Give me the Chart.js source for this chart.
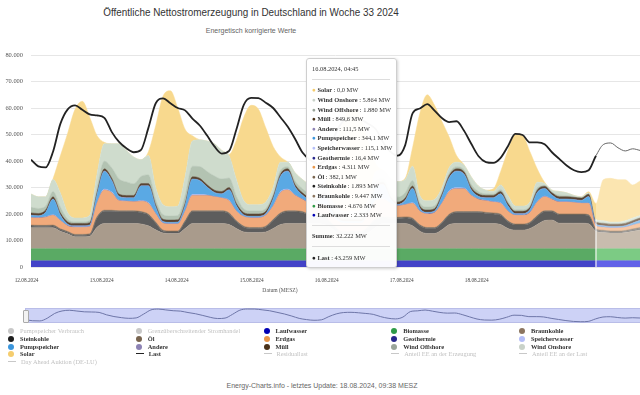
<!DOCTYPE html>
<html lang="de">
<head>
<meta charset="utf-8">
<title>Öffentliche Nettostromerzeugung in Deutschland in Woche 33 2024</title>
<script src="https://cdn.jsdelivr.net/npm/chart.js@4.4.1/dist/chart.umd.min.js"></script>
<style>
  html, body { margin: 0; padding: 0; background: #fff; }
  #wrap { position: relative; width: 640px; height: 395px; overflow: hidden; font-family: "Liberation Serif", serif; }
  #main { position: absolute; left: 0; top: 0; }
  #nav { position: absolute; left: 0; top: 300px; }
  .head { position: absolute; left: 0; width: 502px; text-align: center; white-space: nowrap;
          font-family: "Liberation Sans", Arial, sans-serif; }
  #title { top: 6px; font-size: 11.5px; color: #333; transform: scaleX(0.86); transform-origin: 251px 0; }
  #subtitle { top: 27px; font-size: 7px; color: #666; }
  #xtitle { position: absolute; left: 230px; width: 100px; top: 287px; text-align: center; font-size: 5.6px; color: #555; }
  #footer { position: absolute; left: 0; width: 644px; top: 382px; text-align: center; font-size: 7px; color: #666;
            font-family: "Liberation Sans", Arial, sans-serif; }
  #handle { position: absolute; left: 23px; top: 310px; width: 4px; height: 11px; background: #f2f2f2; border: 1px solid #aaa; border-radius: 1px; }
  #tip { position: absolute; left: 306px; top: 58px; width: 89px; height: 208px; background: rgba(255,255,255,0.97);
         border: 1px solid #cfcfcf; border-radius: 3px; box-shadow: 1px 1px 3px rgba(0,0,0,0.18); color: #333; font-size: 6.4px; }
  #tip .row { position: absolute; left: 5px; white-space: nowrap; line-height: 8px; height: 8px; }
  #tip .sep { position: absolute; left: 5px; width: 78px; height: 1px; background: #ddd; }
  #tip b { font-weight: bold; }
  .leg { position: absolute; white-space: nowrap; font-size: 6.4px; line-height: 8px; height: 8px; font-weight: bold; color: #333; }
  .leg.off { color: #c2c2c2; font-weight: normal; }
  .leg i { display: inline-block; width: 6px; height: 6px; border-radius: 50%; margin-right: 6px; vertical-align: -1px; }
  .leg i.ln { width: 8px; height: 1px; border-radius: 0; vertical-align: 2px; margin-right: 5px; }
</style>
</head>
<body>
<div id="wrap">
  <div id="title" class="head">Öffentliche Nettostromerzeugung in Deutschland in Woche 33 2024</div>
  <div id="subtitle" class="head">Energetisch korrigierte Werte</div>
  <canvas id="main" width="640" height="300"></canvas>
  <div id="xtitle">Datum (MESZ)</div>
  <canvas id="nav" width="640" height="30"></canvas>
  <div id="handle"></div>
  <div id="legend"></div>
  <div id="tip"></div>
  <div id="footer">Energy-Charts.info - letztes Update: 18.08.2024, 09:38 MESZ</div>
</div>
<script>
// hours since 12.08.2024 00:00 (MESZ)
const HOURS = [
  0, 2, 4, 6, 8, 10, 12, 14, 16, 18, 20, 22,
  24, 26, 28, 30, 32, 34, 36, 38, 40, 42, 44, 46,
  48, 50, 52, 54, 56, 58, 60, 62, 64, 66, 68, 70,
  72, 74, 76, 78, 80, 82, 84, 86, 88, 90, 92, 94,
  96, 98, 100, 102, 104, 106, 108, 110, 112, 114, 116, 118,
  120, 122, 124, 126, 128, 130, 132, 134, 136, 138, 140, 142,
  144, 146, 148, 150, 152, 154, 156, 158, 160, 162, 164, 166
];
const DAY_LABELS = ["12.08.2024", "13.08.2024", "14.08.2024", "15.08.2024", "16.08.2024", "17.08.2024", "18.08.2024"];
const FORECAST_FROM_H = 154;

// MW
const LAUFWASSER = [
  2330, 2330, 2330, 2330, 2330, 2330, 2330, 2330, 2330, 2330, 2330, 2330,
  2330, 2330, 2330, 2330, 2330, 2330, 2330, 2330, 2330, 2330, 2330, 2330,
  2330, 2330, 2330, 2330, 2330, 2330, 2330, 2330, 2330, 2330, 2330, 2330,
  2330, 2330, 2330, 2330, 2330, 2330, 2330, 2330, 2330, 2330, 2330, 2330,
  2330, 2330, 2333, 2330, 2330, 2330, 2330, 2330, 2330, 2330, 2330, 2330,
  2330, 2330, 2330, 2330, 2330, 2330, 2330, 2330, 2330, 2330, 2330, 2330,
  2330, 2330, 2330, 2330, 2330, 2400, 2400, 2400, 2400, 2400, 2400, 2400
];
const BIOMASSE = [
  4600, 4600, 4600, 4600, 4600, 4600, 4600, 4600, 4600, 4600, 4600, 4600,
  4600, 4600, 4600, 4600, 4600, 4600, 4600, 4600, 4600, 4600, 4600, 4600,
  4600, 4600, 4600, 4600, 4600, 4600, 4600, 4600, 4600, 4600, 4600, 4600,
  4600, 4600, 4600, 4600, 4600, 4600, 4600, 4600, 4600, 4600, 4600, 4600,
  4600, 4600, 4676, 4600, 4600, 4600, 4600, 4600, 4600, 4600, 4600, 4600,
  4600, 4600, 4600, 4600, 4600, 4600, 4600, 4600, 4600, 4600, 4600, 4600,
  4600, 4600, 4600, 4600, 4600, 4500, 4500, 4500, 4500, 4500, 4500, 4500
];
const BRAUNKOHLE = [
  7900, 7900, 7900, 7900, 6600, 5600, 4500, 4500, 4700, 8100, 9500, 9500,
  9500, 9500, 9500, 9300, 8600, 7100, 5900, 5700, 5700, 7600, 9500, 9500,
  9500, 9500, 9500, 9100, 7600, 6300, 6100, 6100, 6300, 7600, 9100, 9500,
  9500, 9500, 9500, 9500, 9100, 7600, 5600, 5100, 5100, 5100, 6100, 8100,
  9500, 9500, 9447, 9500, 8600, 6600, 5700, 5700, 7100, 9100, 9500, 9500,
  9500, 9500, 9500, 9500, 9100, 7600, 7000, 7000, 7600, 9100, 10600, 10800,
  9600, 9600, 9600, 9600, 9400, 6600, 6100, 5900, 5900, 6100, 6600, 7100
];
const STEINKOHLE = [
  600, 500, 500, 600, 500, 500, 500, 500, 500, 3500, 4600, 4600,
  4400, 4400, 4400, 4300, 4000, 2500, 700, 600, 600, 2500, 4400, 4400,
  4400, 4400, 4400, 4000, 2500, 1800, 1500, 1500, 1800, 3000, 4000, 4400,
  4400, 4100, 3100, 3100, 3000, 1500, 1000, 1000, 1000, 1000, 2000, 3000,
  2100, 1900, 1893, 2100, 2500, 2000, 1900, 1900, 2500, 3500, 4100, 4100,
  4100, 4100, 3800, 3600, 3500, 2500, 1900, 1900, 2000, 3000, 3300, 3100,
  3100, 3100, 3100, 3100, 3000, 500, 500, 400, 400, 400, 500, 500
];
const OEL = [
  380, 380, 380, 380, 380, 380, 380, 380, 380, 380, 380, 380,
  380, 380, 380, 380, 380, 380, 380, 380, 380, 380, 380, 380,
  380, 380, 380, 380, 380, 380, 380, 380, 380, 380, 380, 380,
  380, 380, 380, 380, 380, 380, 380, 380, 380, 380, 380, 380,
  380, 380, 382, 380, 380, 380, 380, 380, 380, 380, 380, 380,
  380, 380, 380, 380, 380, 380, 380, 380, 380, 380, 380, 380,
  380, 380, 380, 380, 380, 380, 380, 380, 380, 380, 380, 380
];
const ERDGAS = [
  2800, 2800, 3100, 3700, 3100, 2100, 2700, 2700, 2700, 5100, 7600, 6600,
  3800, 3600, 3400, 3900, 4100, 3100, 2600, 2600, 2600, 3600, 5800, 5800,
  5800, 5300, 4800, 4600, 3600, 3600, 3600, 3600, 4100, 5100, 7600, 7800,
  5800, 4600, 4100, 3600, 4100, 3100, 3100, 3100, 3100, 3100, 4600, 6600,
  6600, 5300, 4311, 4600, 5600, 5100, 5100, 5600, 7100, 8600, 8600, 8600,
  6100, 4600, 4400, 4100, 4100, 3600, 3300, 3300, 3600, 5100, 5300, 4300,
  4500, 4500, 4300, 4000, 4300, 1100, 1100, 1100, 1100, 1200, 1400, 1600
];
const GEOTHERMIE = [
  16, 16, 16, 16, 16, 16, 16, 16, 16, 16, 16, 16,
  16, 16, 16, 16, 16, 16, 16, 16, 16, 16, 16, 16,
  16, 16, 16, 16, 16, 16, 16, 16, 16, 16, 16, 16,
  16, 16, 16, 16, 16, 16, 16, 16, 16, 16, 16, 16,
  16, 16, 16, 16, 16, 16, 16, 16, 16, 16, 16, 16,
  16, 16, 16, 16, 16, 16, 16, 16, 16, 16, 16, 16,
  16, 16, 16, 16, 16, 16, 16, 16, 16, 16, 16, 16
];
const SPEICHERWASSER = [
  120, 120, 120, 200, 150, 120, 120, 120, 120, 250, 350, 250,
  120, 120, 120, 200, 250, 150, 120, 120, 120, 200, 350, 300,
  150, 120, 120, 200, 150, 120, 120, 120, 120, 200, 350, 350,
  150, 120, 120, 120, 200, 120, 120, 120, 120, 120, 150, 300,
  300, 120, 115, 120, 250, 120, 120, 120, 150, 250, 350, 300,
  120, 120, 120, 120, 200, 150, 120, 120, 120, 200, 200, 120,
  120, 120, 120, 120, 150, 100, 100, 100, 100, 100, 100, 100
];
const PUMPSPEICHER = [
  700, 600, 1600, 5800, 1800, 400, 300, 300, 400, 2800, 6700, 4300,
  1400, 1100, 1300, 5500, 6300, 2300, 400, 400, 500, 1800, 5700, 5200,
  2900, 1400, 1400, 3800, 1800, 400, 400, 400, 400, 2300, 5700, 6700,
  2900, 1400, 900, 900, 3300, 1400, 400, 400, 400, 400, 800, 4700,
  5200, 1400, 344, 1400, 5300, 900, 400, 400, 2300, 4800, 6200, 5200,
  1900, 900, 900, 1400, 3300, 1800, 400, 400, 900, 3300, 2800, 1400,
  900, 900, 900, 900, 2300, 400, 400, 400, 400, 400, 600, 900
];
const ANDERE = [
  110, 110, 110, 110, 110, 110, 110, 110, 110, 110, 110, 110,
  110, 110, 110, 110, 110, 110, 110, 110, 110, 110, 110, 110,
  110, 110, 110, 110, 110, 110, 110, 110, 110, 110, 110, 110,
  110, 110, 110, 110, 110, 110, 110, 110, 110, 110, 110, 110,
  110, 110, 111, 110, 110, 110, 110, 110, 110, 110, 110, 110,
  110, 110, 110, 110, 110, 110, 110, 110, 110, 110, 110, 110,
  110, 110, 110, 110, 110, 110, 110, 110, 110, 110, 110, 110
];
const MUELL = [
  850, 850, 850, 850, 850, 850, 850, 850, 850, 850, 850, 850,
  850, 850, 850, 850, 850, 850, 850, 850, 850, 850, 850, 850,
  850, 850, 850, 850, 850, 850, 850, 850, 850, 850, 850, 850,
  850, 850, 850, 850, 850, 850, 850, 850, 850, 850, 850, 850,
  850, 850, 850, 850, 850, 850, 850, 850, 850, 850, 850, 850,
  850, 850, 850, 850, 850, 850, 850, 850, 850, 850, 850, 850,
  850, 850, 850, 850, 850, 850, 850, 850, 850, 850, 850, 850
];
const WIND_OFFSHORE = [
  2100, 1900, 1500, 2000, 2200, 1000, 600, 600, 800, 2100, 2900, 3900,
  5700, 5100, 4400, 2700, 3200, 2000, 1700, 1500, 1600, 3000, 4000, 4400,
  5000, 5300, 4700, 3600, 2700, 1400, 1100, 1100, 1100, 1100, 1400, 800,
  1400, 1500, 1500, 1500, 1100, 900, 900, 900, 900, 1100, 1100, 1500,
  1400, 1900, 1880, 2000, 2100, 1200, 1100, 1100, 800, 900, 800, 800,
  1200, 900, 600, 500, 800, 900, 600, 600, 600, 900, 300, 300,
  600, 500, 200, 200, 200, 300, 300, 200, 200, 300, 300, 300
];
const WIND_ONSHORE = [
  5000, 4400, 3500, 4500, 5300, 2500, 1500, 1500, 2000, 4900, 6600, 9100,
  13300, 11900, 10100, 6300, 7300, 4500, 3800, 3500, 3600, 7000, 9500, 10100,
  11500, 12200, 10800, 8400, 6300, 3100, 2400, 2400, 2400, 2400, 3100, 1700,
  3100, 3500, 3500, 3500, 2400, 2100, 2100, 2100, 2100, 2400, 2400, 3500,
  3100, 5100, 5864, 5000, 5400, 2800, 2400, 2400, 1700, 2100, 1700, 1700,
  2800, 2100, 1400, 1000, 1700, 2100, 1400, 1400, 1400, 2100, 700, 700,
  1400, 1000, 500, 300, 300, 700, 700, 600, 600, 700, 700, 700
];
const SOLAR = [
  0, 0, 0, 300, 14000, 30000, 41000, 44000, 37000, 14500, 500, 0,
  0, 0, 0, 0, 1500, 23500, 41000, 43800, 37000, 18000, 2000, 0,
  0, 0, 0, 500, 15000, 31500, 37500, 36000, 28000, 15500, 2000, 0,
  0, 0, 0, 0, 500, 13000, 28500, 37000, 39000, 34500, 21500, 3000,
  0, 0, 0, 500, 7000, 31000, 40000, 35500, 25000, 11500, 2500, 200,
  0, 0, 0, 1000, 5000, 17000, 27000, 26500, 19000, 5000, 500, 0,
  0, 0, 0, 0, 500, 6000, 15500, 16500, 16000, 15500, 12500, 13000
];
const LAST = [
  40500, 38000, 37600, 43500, 54000, 59500, 61000, 59300, 57600, 57200, 56300, 51000,
  47200, 44800, 43300, 44200, 52500, 61800, 63600, 61800, 60000, 59100, 56000, 53400,
  49600, 45500, 42800, 43800, 52000, 61200, 63800, 63700, 62000, 60000, 56500, 52900,
  48300, 43200, 40500, 39000, 40000, 47000, 53000, 56000, 56500, 55500, 54000, 52000,
  47000, 43500, 42000, 46000, 58000, 59800, 61500, 59000, 56200, 54700, 55000, 51500,
  46500, 41800, 39600, 39300, 41200, 45600, 50200, 49800, 47000, 47000, 46300, 43300,
  40800, 38300, 36500, 35800, 36500, 42000, 46200, 46800, 45000, 43800, 44600, 44000
];

// tooltip snapshot as shown in the picture
const TOOLTIP_TIME = "16.08.2024, 04:45";
const TOOLTIP_NAMES = ["Solar", "Wind Onshore", "Wind Offshore", "Müll", "Andere", "Pumpspeicher", "Speicherwasser",
  "Geothermie", "Erdgas", "Öl", "Steinkohle", "Braunkohle", "Biomasse", "Laufwasser"];
const TOOLTIP_VALUES = [0.0, 5864, 1880, 849.6, 111.5, 344.1, 115.1, 16.4, 4311, 382.1, 1893, 9447, 4676, 2333];
const TOOLTIP_SUM = 32222;
const TOOLTIP_LAST = 43259;

// colours: [normal, forecast]
const COLORS = {
  "Laufwasser": ["#4343c8", "#6262e8"],
  "Biomasse": ["#5aaa64", "#7ccb84"],
  "Braunkohle": ["#a99b8c", "#c8bcae"],
  "Steinkohle": ["#5d5d5d", "#8c8c8c"],
  "Öl": ["#7a6a58", "#a39483"],
  "Erdgas": ["#f1aa7b", "#f7c8a5"],
  "Geothermie": ["#2b2b8c", "#6a6ab8"],
  "Speicherwasser": ["#b5bdf4", "#d2d7f8"],
  "Pumpspeicher": ["#5aa9e4", "#8cc4ee"],
  "Andere": ["#8c82b4", "#b0a8cc"],
  "Müll": ["#594532", "#8a7866"],
  "Wind Offshore": ["#b3c3b2", "#c8d6c8"],
  "Wind Onshore": ["#cfdccd", "#e1eadf"],
  "Solar": ["#f8d98e", "#fbe5b0"]
};
const LEGEND_COLORS = {
  "Laufwasser": "#0000b4", "Biomasse": "#2e9a48", "Braunkohle": "#8b7560", "Steinkohle": "#1e1e1e",
  "Öl": "#78644f", "Erdgas": "#e8964a", "Geothermie": "#28288c", "Speicherwasser": "#b4bef8",
  "Pumpspeicher": "#3c96dc", "Andere": "#8c82b4", "Müll": "#4b3219", "Wind Offshore": "#9aa59a",
  "Wind Onshore": "#c9d2c9", "Solar": "#f5cd6e"
};

const STACK = [
  ["Laufwasser", LAUFWASSER], ["Biomasse", BIOMASSE], ["Braunkohle", BRAUNKOHLE], ["Steinkohle", STEINKOHLE],
  ["Öl", OEL], ["Erdgas", ERDGAS], ["Geothermie", GEOTHERMIE], ["Speicherwasser", SPEICHERWASSER],
  ["Pumpspeicher", PUMPSPEICHER], ["Andere", ANDERE], ["Müll", MUELL], ["Wind Offshore", WIND_OFFSHORE],
  ["Wind Onshore", WIND_ONSHORE], ["Solar", SOLAR]
];

const TICK_START_H = -1.2;
const TICK_STEP_H = 20.45;
const isForecast = c => c.p0.parsed.x >= FORECAST_FROM_H;
const points = arr => HOURS.map((h, i) => ({ x: h, y: arr[i] }));

const datasets = [{
  label: "Last",
  data: points(LAST),
  stack: "last",
  borderColor: "#222",
  borderWidth: 1.8,
  pointRadius: 0,
  fill: false,
  cubicInterpolationMode: "monotone",
  segment: {
    borderColor: c => isForecast(c) ? "#666" : "#222",
    borderWidth: c => isForecast(c) ? 1 : 1.8
  }
}];
STACK.forEach(([name, arr], i) => {
  const [col, light] = COLORS[name];
  datasets.push({
    label: name,
    data: points(arr),
    backgroundColor: col,
    borderColor: col,
    borderWidth: 0.5,
    pointRadius: 0,
    fill: i === 0 ? "origin" : "-1",
    cubicInterpolationMode: "monotone",
    segment: {
      backgroundColor: c => isForecast(c) ? light : col,
      borderColor: c => isForecast(c) ? light : col
    }
  });
});

// white gap where the forecast starts
const forecastLine = {
  id: "forecastLine",
  afterDatasetsDraw(chart) {
    const x = chart.scales.x.getPixelForValue(FORECAST_FROM_H);
    const idx = HOURS.indexOf(FORECAST_FROM_H);
    const meta = chart.getDatasetMeta(STACK.length - 1);
    const top = meta.data[idx].y;
    const ctx = chart.ctx;
    ctx.save();
    ctx.strokeStyle = "rgba(255,255,255,0.9)";
    ctx.lineWidth = 1.2;
    ctx.beginPath();
    ctx.moveTo(x, chart.chartArea.bottom);
    ctx.lineTo(x, top);
    ctx.stroke();
    ctx.restore();
  }
};

new Chart(document.getElementById("main"), {
  type: "line",
  data: { datasets: datasets },
  options: {
    responsive: false,
    animation: false,
    devicePixelRatio: 1,
    layout: { padding: { top: 55, left: 0, right: 0, bottom: 0 } },
    plugins: { legend: { display: false }, tooltip: { enabled: false }, title: { display: false } },
    scales: {
      x: {
        type: "linear", min: 0, max: 166,
        grid: { display: false }, border: { display: false },
        afterBuildTicks: s => { s.ticks = DAY_LABELS.map((_, i) => ({ value: TICK_START_H + i * TICK_STEP_H })); },
        ticks: {
          autoSkip: false, maxRotation: 0, padding: 2, color: "#444",
          font: { family: "Liberation Serif", size: 5.3 },
          callback: (v, i) => DAY_LABELS[i]
        },
        afterFit: s => { s.height = 33; }
      },
      y: {
        stacked: true, min: 0, max: 80000,
        grid: { color: "#e6e6e6", drawTicks: false }, border: { display: false },
        ticks: {
          stepSize: 10000, padding: 8, color: "#555",
          font: { family: "Liberation Serif", size: 6.4 },
          callback: v => v.toLocaleString("de-DE")
        },
        afterFit: s => { s.width = 31; }
      }
    }
  },
  plugins: [forecastLine]
});

// navigator
const navBand = {
  id: "navBand",
  beforeDatasetsDraw(chart) {
    const a = chart.chartArea, ctx = chart.ctx;
    ctx.save();
    ctx.fillStyle = "#cdd2f6";
    ctx.fillRect(a.left, a.top, a.right - a.left, a.bottom - a.top);
    ctx.strokeStyle = "#b9bde8";
    ctx.lineWidth = 1;
    ctx.strokeRect(a.left + 0.5, a.top + 0.5, a.right - a.left, a.bottom - a.top - 1);
    ctx.restore();
  }
};
new Chart(document.getElementById("nav"), {
  type: "line",
  data: { datasets: [{ data: points(LAST), borderColor: "#6e76a8", borderWidth: 1, pointRadius: 0, fill: false, cubicInterpolationMode: "monotone" }] },
  options: {
    responsive: false, animation: false, devicePixelRatio: 1,
    layout: { padding: { left: 25, right: 0, top: 8, bottom: 7 } },
    plugins: { legend: { display: false }, tooltip: { enabled: false } },
    scales: { x: { type: "linear", min: 0, max: 166, display: false }, y: { min: 33000, max: 66000, display: false } }
  },
  plugins: [navBand]
});

// tooltip box
const fmt = v => v < 1000
  ? v.toLocaleString("de-DE", { minimumFractionDigits: 1, maximumFractionDigits: 1 })
  : Math.round(v).toLocaleString("de-DE");
const tip = document.getElementById("tip");
let html = '<div class="row" style="top:6px">' + TOOLTIP_TIME + '</div><div class="sep" style="top:20px"></div>';
TOOLTIP_NAMES.forEach((n, i) => {
  const top = 27.3 + i * 9.6;
  html += '<div class="row" style="top:' + top + 'px"><span style="color:' + LEGEND_COLORS[n] + '">●</span> <b>' + n + '</b> : ' + fmt(TOOLTIP_VALUES[i]) + ' MW</div>';
});
html += '<div class="sep" style="top:166px"></div>';
html += '<div class="row" style="top:173px"><b>Summe</b>: ' + fmt(TOOLTIP_SUM) + ' MW</div>';
html += '<div class="sep" style="top:187px"></div>';
html += '<div class="row" style="top:194.7px"><span style="color:#222">●</span> <b>Last</b> : ' + fmt(TOOLTIP_LAST) + ' MW</div>';
tip.innerHTML = html;

// legend
const LEGEND_ROWS = [
  [["Pumpspeicher Verbrauch", "dot", true], ["Grenzüberschreitender Stromhandel", "dot", true], ["Laufwasser", "dot"], ["Biomasse", "dot"], ["Braunkohle", "dot"]],
  [["Steinkohle", "dot"], ["Öl", "dot"], ["Erdgas", "dot"], ["Geothermie", "dot"], ["Speicherwasser", "dot"]],
  [["Pumpspeicher", "dot"], ["Andere", "dot"], ["Müll", "dot"], ["Wind Offshore", "dot"], ["Wind Onshore", "dot"]],
  [["Solar", "dot"], ["Last", "line"], ["Residuallast", "line", true], ["Anteil EE an der Erzeugung", "line", true], ["Anteil EE an der Last", "line", true]],
  [["Day Ahead Auktion (DE-LU)", "line", true]]
];
const legend = document.getElementById("legend");
LEGEND_ROWS.forEach((row, r) => {
  row.forEach(([name, kind, off], c) => {
    const d = document.createElement("div");
    d.className = "leg" + (off ? " off" : "");
    d.style.left = (8 + c * 127.75) + "px";
    d.style.top = (327 + r * 7.8) + "px";
    const col = off ? "#c8c8c8" : (name === "Last" ? "#222" : LEGEND_COLORS[name]);
    d.innerHTML = '<i class="' + (kind === "line" ? "ln" : "") + '" style="background:' + col + '"></i>' + name;
    legend.appendChild(d);
  });
});
</script>
</body>
</html>
